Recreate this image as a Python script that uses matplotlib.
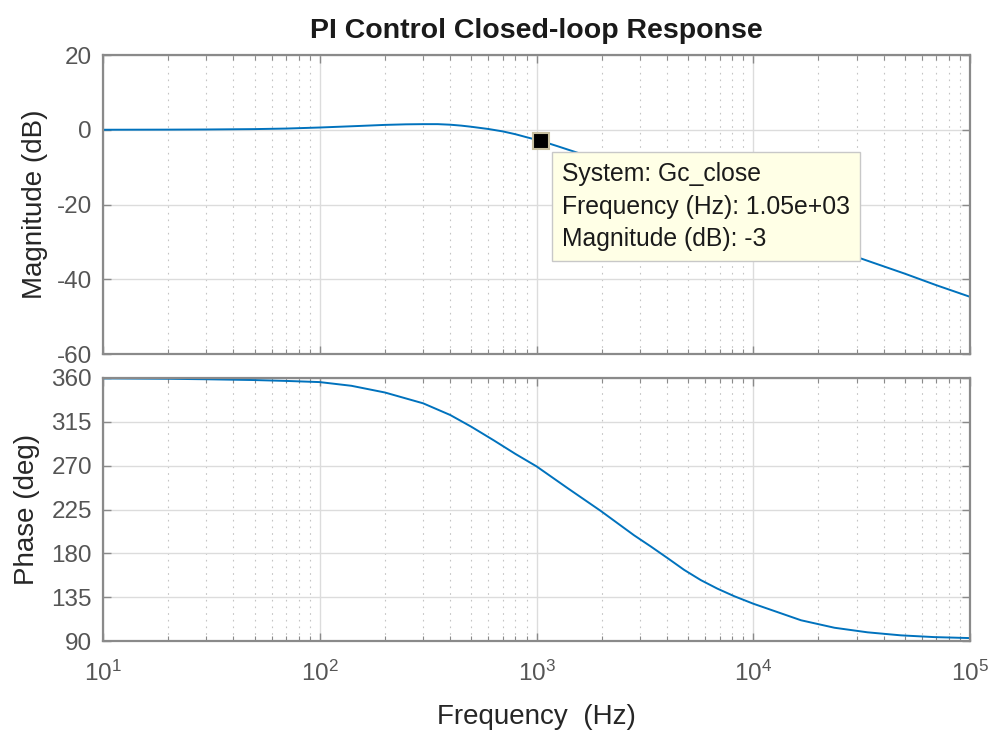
import matplotlib
matplotlib.use("Agg")
import matplotlib.pyplot as plt
from matplotlib.ticker import LogLocator, NullFormatter, FixedLocator

plt.rcParams['font.family'] = ['Liberation Sans', 'DejaVu Sans']
plt.rcParams['mathtext.fontset'] = 'custom'
plt.rcParams['mathtext.rm'] = 'Liberation Sans'
plt.rcParams['mathtext.it'] = 'Liberation Sans'
plt.rcParams['axes.unicode_minus'] = False

# ---- data ----
mag_freq = [10, 20, 30, 50, 70, 100, 150, 200, 250, 300, 350, 400, 450, 500, 600, 700, 800,
            900, 1050, 1250, 1500, 2000, 3000, 5000, 7000, 10000, 15000, 20000, 31600,
            50000, 70000, 100000]
mag_db = [0.0, 0.03, 0.07, 0.17, 0.32, 0.6, 1.0, 1.3, 1.45, 1.5, 1.5, 1.35, 1.1, 0.8, 0.2,
          -0.45, -1.2, -2.0, -3.0, -4.4, -5.9, -8.3, -12.0, -16.5, -19.8, -23.5, -27.8,
          -30.5, -34.5, -38.5, -41.6, -44.7]

ph_freq = [10, 20, 30, 50, 70, 100, 140, 200, 300, 400, 500, 635, 800, 1000, 1390, 1980,
           2820, 3370, 4030, 4800, 5730, 6840, 8170, 10000, 16600, 23700, 33700, 48000,
           68400, 100000]
ph_deg = [359.6, 359.2, 358.7, 357.9, 357.0, 355.8, 352.0, 345.1, 334.0, 322.0, 310.0,
          296.0, 282.0, 269.3, 247.0, 223.5, 198.5, 187.0, 175.0, 163.0, 152.5, 143.7,
          136.0, 128.3, 111.3, 103.6, 98.9, 95.8, 94.0, 93.0]

mag_ticks = [-60, -40, -20, 0, 20]
ph_ticks = [90, 135, 180, 225, 270, 315, 360]
x_ticks = [10, 100, 1000, 10000, 100000]
x_ticklabels = [r'$10^{1}$', r'$10^{2}$', r'$10^{3}$', r'$10^{4}$', r'$10^{5}$']

tip_freq = 1050
tip_mag = -3.0
tip_text = "System: Gc_close\nFrequency (Hz): 1.05e+03\nMagnitude (dB): -3"

title = "PI Control Closed-loop Response"
xlabel = "Frequency  (Hz)"

# ---- figure ----
W, H = 992, 730
fig = plt.figure(figsize=(W / 100, H / 100), dpi=100)

def frac(l, t, r, b):
    return [l / W, 1 - b / H, (r - l) / W, (b - t) / H]

ax1 = fig.add_axes(frac(103, 55, 970, 354))
ax2 = fig.add_axes(frac(103, 378, 970, 641))

line_color = '#0072BD'
spine_color = '#8a8a8a'
tick_color = '#555555'
fs_tick = 17.5

for ax in (ax1, ax2):
    ax.set_xscale('log')
    ax.set_xlim(10, 1e5)
    ax.set_facecolor('white')
    for s in ax.spines.values():
        s.set_color(spine_color)
        s.set_linewidth(1.6)
    ax.xaxis.set_major_locator(FixedLocator(x_ticks))
    ax.xaxis.set_minor_locator(LogLocator(base=10, subs=range(2, 10)))
    ax.xaxis.set_minor_formatter(NullFormatter())
    ax.tick_params(which='both', direction='in', top=True, right=True,
                   colors=spine_color, labelcolor=tick_color, labelsize=fs_tick)
    ax.tick_params(which='major', length=6, width=1.0)
    ax.tick_params(which='minor', length=3.5, width=0.8)
    ax.tick_params(axis='y', which='major', pad=8)
    ax.grid(True, which='major', axis='both', color='#dcdcdc', linewidth=1.0, linestyle='-')
    ax.grid(True, which='minor', axis='x', color='#c4c4c4', linewidth=0.8, linestyle=(0, (1.5, 4.5)))
    ax.set_axisbelow(True)

# magnitude
ax1.plot(mag_freq, mag_db, color=line_color, lw=1.4)
ax1.set_ylim(-60, 20)
ax1.set_yticks(mag_ticks)
ax1.set_xticklabels([])
ax1.set_ylabel('Magnitude (dB)', fontsize=20, color='#262626')
ax1.yaxis.set_label_coords(-0.063, 0.5)
ax1.set_title(title, fontsize=20.5, fontweight='bold', color='#1a1a1a', pad=12)

# data tip
ax1.plot([tip_freq], [tip_mag], marker='s', markersize=12, color='black',
         markeredgecolor='#c8c0a0', markeredgewidth=1.5, zorder=5)
ax1.annotate(tip_text, xy=(tip_freq, tip_mag), xytext=(21, -21),
             textcoords='offset pixels', ha='left', va='top',
             fontsize=17.8, color='#1a1a1a', linespacing=1.45, zorder=6,
             bbox=dict(boxstyle='square,pad=0.42', facecolor='#ffffe6',
                       edgecolor='#c8c8c8', linewidth=1.0))

# phase
ax2.plot(ph_freq, ph_deg, color=line_color, lw=1.4)
ax2.set_ylim(90, 360)
ax2.set_yticks(ph_ticks)
ax2.set_xticklabels(x_ticklabels)
ax2.tick_params(axis='x', which='major', pad=14)
ax2.set_ylabel('Phase (deg)', fontsize=20, color='#262626')
ax2.yaxis.set_label_coords(-0.073, 0.5)
ax2.set_xlabel(xlabel, fontsize=20, color='#262626', labelpad=13)

fig.savefig('out.png', dpi=100, facecolor='white')
